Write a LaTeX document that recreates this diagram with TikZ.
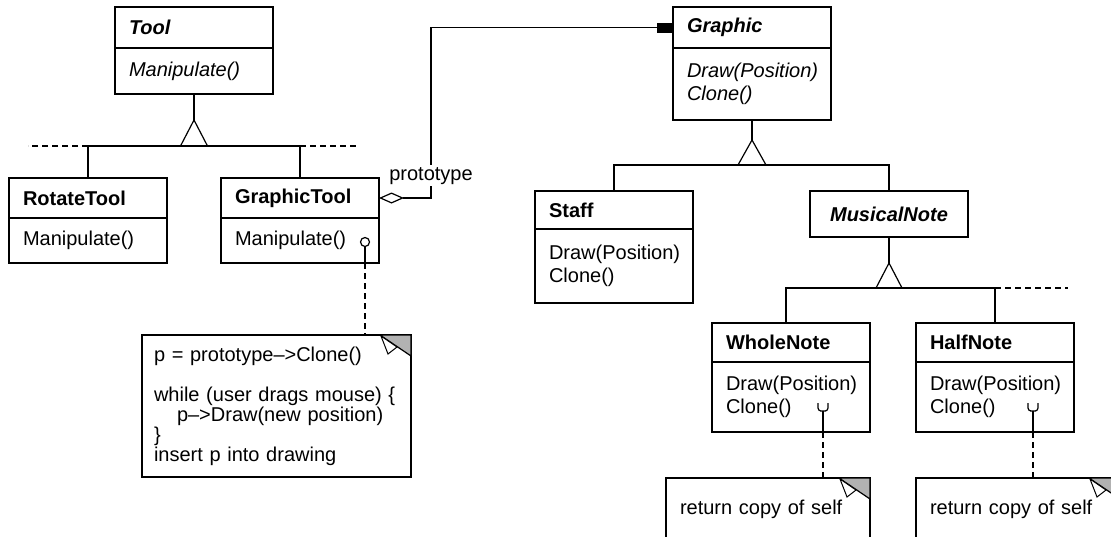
\documentclass[tikz,border=0pt]{standalone}
\usepackage{fontspec}
\setmainfont{Liberation Sans}
\usetikzlibrary{arrows.meta, positioning}

\begin{document}
\begin{tikzpicture}[x=0.5pt, y=-0.5pt, line width=0.6pt,
      cname/.style={rectangle, draw, outer sep=0pt, text width=65pt, inner xsep=7pt,
                    inner ysep=0pt, align=left, font=\fontsize{10}{11.5}\selectfont\bfseries},
      abstract/.style={font=\fontsize{10}{11.5}\selectfont\bfseries\itshape},
      cbody/.style={rectangle, draw, outer sep=0pt, text width=65pt, inner xsep=7pt,
                    inner ysep=0pt, align=left, font=\fontsize{10}{11.5}\selectfont},
      note/.style={rectangle, draw, outer sep=0pt, inner xsep=7pt, inner ysep=0pt,
                   align=left, font=\fontsize{10}{10}\selectfont},
      lbl/.style={fill=white, inner sep=1pt, font=\fontsize{10}{11.5}\selectfont},
      dep/.style={dash pattern=on 3pt off 2pt},
      agg/.style={{Diamond[open, length=12.5pt, width=5.5pt]}-{Square[length=8pt, width=5pt]}}]
    \useasboundingbox (0,0) rectangle (1111,536);
    \clip (0,0) rectangle (1111,536);
    % tools
    \node[cname, abstract, anchor=north west, minimum height=20.5pt] (toolN) at (115,7) {Tool};
    \node[cbody, below=0pt of toolN, minimum height=23pt,
          font=\fontsize{10}{11.5}\selectfont\itshape] (toolB) {Manipulate()};
    \node[cname, anchor=north west, minimum height=20pt] (rtN) at (9,178) {RotateTool};
    \node[cbody, below=0pt of rtN, minimum height=22.5pt] (rtB) {Manipulate()};
    \node[cname, anchor=north west, minimum height=20pt] (gtN) at (221,178) {GraphicTool};
    \node[cbody, below=0pt of gtN, minimum height=22.5pt] (gtB) {Manipulate()};
    % graphics
    \node[cname, abstract, anchor=north west, minimum height=20.5pt] (gN) at (673,7) {Graphic};
    \node[cbody, below=0pt of gN, minimum height=36pt,
          font=\fontsize{10}{11.5}\selectfont\itshape] (gB) {Draw(Position)\\Clone()};
    \node[cname, anchor=north west, minimum height=19pt] (stN) at (535,191) {Staff};
    \node[cbody, below=0pt of stN, minimum height=37pt] (stB) {Draw(Position)\\Clone()};
    \node[cname, abstract, align=center, anchor=north west, minimum height=23pt] (mnN) at (810,191) {MusicalNote};
    \node[cname, anchor=north west, minimum height=19.5pt] (wnN) at (712,323) {WholeNote};
    \node[cbody, below=0pt of wnN, minimum height=35pt] (wnB) {Draw(Position)\\Clone()};
    \node[cname, anchor=north west, minimum height=19.5pt] (hnN) at (916,323) {HalfNote};
    \node[cbody, below=0pt of hnN, minimum height=35pt] (hnB) {Draw(Position)\\Clone()};
    % notes
    \node[note, anchor=north west, text width=122.5pt, inner xsep=6pt, minimum height=71pt] (note1) at (142,335)
      {p = prototype–>Clone()\\[10pt]while (user drags mouse) \{\\\hspace*{11.5pt}p–>Draw(new position)\\\}\\insert p into drawing};
    \node[note, anchor=north west, text width=88pt, minimum height=31pt] (note2) at (666,478) {return copy of self};
    \node[note, anchor=north west, text width=88pt, minimum height=31pt] (note3) at (916,478) {return copy of self};
    \foreach \n in {note1, note2, note3} {
      \filldraw[fill=gray!60] ([xshift=-15.5pt]\n.north east) -- (\n.north east) -- ([yshift=-10.5pt]\n.north east) -- cycle;
      \filldraw[fill=white, line width=0.5pt] ([xshift=-15pt,yshift=-0.5pt]\n.north east) -- ([xshift=-11.5pt,yshift=-9.5pt]\n.north east)
        -- ([xshift=-7pt,yshift=-6pt]\n.north east) -- cycle;
    }
    % inheritance
    \draw (toolB.south) -- ++(0,26) coordinate (toolap);
    \draw (toolap) -- ++(-13.5,26) -- ++(27,0) -- cycle;
    \draw (rtN.north) -- ++(0,-32) -| (gtN.north);
    \draw[dep] (rtN.north) ++(0,-32) -- ++(-60,0);
    \draw[dep] (gtN.north) ++(0,-32) -- ++(58,0);
    \draw (gB.south) -- ++(0,20) coordinate (gap);
    \draw (gap) -- ++(-14,25) -- ++(28,0) -- cycle;
    \draw (stN.north) -- ++(0,-26) -| (mnN.north);
    \draw (mnN.south) -- ++(0,26) coordinate (mnap);
    \draw (mnap) -- ++(-13,25) -- ++(26,0) -- cycle;
    \draw ([xshift=-2.5pt]wnN.north) -- ++(0,-35) -| (hnN.north);
    \draw[dep] (hnN.north) ++(0,-35) -- ++(73,0);
    % prototype
    \draw[agg] (gtN.east) -- ++(52,0) node[lbl, above=5.5pt] (proto) {prototype} |- (gN.west);
    % note links
    \node[circle, draw, inner sep=0pt, minimum size=4.5pt] (gtdot) at ([xshift=-7pt,yshift=10.5pt]gtB.south east) {};
    \draw (gtdot.south) -- (gtdot |- gtB.south);
    \draw[dep] (gtdot |- gtB.south) -- (gtdot |- note1.north);
    \coordinate (wnfork) at ([xshift=-23.5pt,yshift=14.5pt]wnB.south east);
    \coordinate (hnfork) at ([xshift=-20.5pt,yshift=14.5pt]hnB.south east);
    \foreach \f/\b/\m in {wnfork/wnB/note2, hnfork/hnB/note3} {
      \draw[rounded corners=1.5pt] (\f) ++(-5,0) |- ++(5,8) -| ++(5,-8);
      \draw (\f) ++(0,8) -- (\f |- \b.south);
      \draw[dep] (\f |- \b.south) -- (\f |- \m.north);
    }
  \end{tikzpicture}
\end{document}
